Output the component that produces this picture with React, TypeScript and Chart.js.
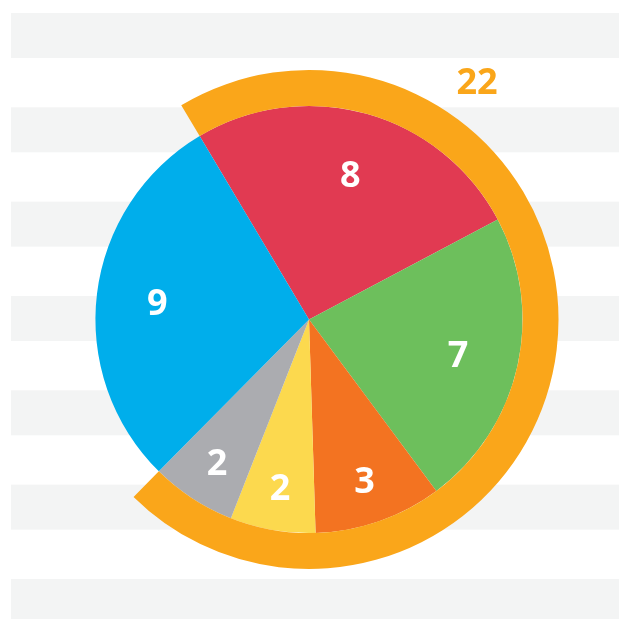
import React, { useEffect, useRef } from "react";
import { Chart, registerables } from "chart.js";

Chart.register(...registerables);

const categories = ["Red", "Green", "Orange", "Yellow", "Gray", "Blue"];
const sliceValues = [8, 7, 3, 2, 2, 9];
const sliceColors = ["#E13A52", "#6DBF5C", "#F37321", "#FCD94E", "#ABACB0", "#00AEEB"];
const ringSliceCount = 5; // first five slices are wrapped by the orange ring
const ringColor = "#FAA61A";
const stripeColor = "#F3F4F4";

const ringTotal = sliceValues.slice(0, ringSliceCount).reduce((a, b) => a + b, 0);
const restTotal = sliceValues.slice(ringSliceCount).reduce((a, b) => a + b, 0);
const ringValues = [ringTotal, restTotal];
const grandTotal = ringTotal + restTotal;

const FONT = '"Open Sans", "DejaVu Sans", sans-serif';

const stripesPlugin = {
  id: "stripes",
  beforeDraw(chart: any) {
    const ctx = chart.ctx;
    ctx.save();
    ctx.fillStyle = stripeColor;
    for (let i = 0; i < 7; i++) {
      const y = 13 + i * 94.33;
      ctx.fillRect(11, y, chart.width - 11, 45);
    }
    ctx.restore();
  },
};

const labelsPlugin = {
  id: "sliceLabels",
  afterDatasetsDraw(chart: any) {
    const ctx = chart.ctx;
    const meta = chart.getDatasetMeta(1);
    ctx.save();
    ctx.font = `700 36px ${FONT}`;
    ctx.textAlign = "center";
    ctx.textBaseline = "middle";
    ctx.fillStyle = "#FFFFFF";
    meta.data.forEach((arc: any, i: number) => {
      const p = arc.getProps(["x", "y", "startAngle", "endAngle", "outerRadius"], true);
      const mid = (p.startAngle + p.endAngle) / 2;
      const frac = sliceValues[i] / grandTotal < 0.15 ? 0.79 : 0.715;
      const r = p.outerRadius * frac;
      ctx.fillText(String(sliceValues[i]), p.x + Math.cos(mid) * r, p.y + Math.sin(mid) * r + 4);
    });
    // ring total label
    const ringMeta = chart.getDatasetMeta(0);
    const a0 = ringMeta.data[0].getProps(["x", "y"], true);
    ctx.fillStyle = ringColor;
    ctx.fillText(String(ringTotal), a0.x + 168, a0.y - 236);
    ctx.restore();
  },
};

export default function App() {
  const canvasRef = useRef<HTMLCanvasElement | null>(null);

  useEffect(() => {
    const canvas = canvasRef.current;
    if (!canvas) return;
    const chart = new Chart(canvas, {
      type: "doughnut",
      data: {
        labels: categories,
        datasets: [
          {
            data: ringValues,
            backgroundColor: [ringColor, "rgba(0,0,0,0)"],
            borderWidth: 0,
            weight: 36,
          } as any,
          {
            data: sliceValues,
            backgroundColor: sliceColors,
            borderWidth: 0,
            weight: 214,
          } as any,
        ],
      },
      options: {
        responsive: false,
        maintainAspectRatio: false,
        animation: false,
        events: [],
        cutout: 0,
        rotation: -30.8,
        layout: { padding: { left: 59, right: 60, top: 70, bottom: 50 } },
        plugins: {
          legend: { display: false },
          tooltip: { enabled: false },
        },
      } as any,
      plugins: [stripesPlugin, labelsPlugin],
    });
    return () => chart.destroy();
  }, []);

  return (
    <canvas
      ref={canvasRef}
      width={619}
      height={619}
      style={{ position: "absolute", left: 0, top: 0, width: 619, height: 619 }}
    />
  );
}
